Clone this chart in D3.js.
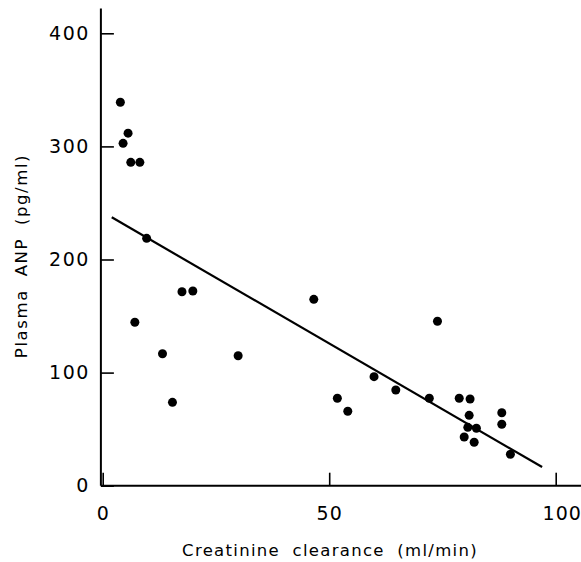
<!DOCTYPE html>
<html>
<head>
<meta charset="utf-8">
<script src="https://cdn.jsdelivr.net/npm/d3@7"></script>
<style>
  body { margin: 0; background: #fff; }
  svg text { font-family: "DejaVu Sans", sans-serif; fill: #000; }
</style>
</head>
<body>
<svg id="chart" width="581" height="562"></svg>
<script>
// Plasma ANP vs creatinine clearance

// creatinine clearance (ml/min)
const clearance = [3.9, 5.6, 4.5, 6.2, 8.2, 9.7, 17.5, 19.9, 7.1, 13.2, 15.4,
    29.9, 46.6, 51.8, 54.1, 59.9, 73.9, 64.7, 72.1, 78.7, 81.1, 80.9, 80.6,
    82.5, 79.8, 82.0, 88.1, 88.1, 90.0];

// plasma ANP (pg/ml)
const anp = [339, 311.7, 302.7, 285.9, 285.9, 218.7, 171.5, 172.1, 144.5, 116.7, 73.7,
    114.9, 164.8, 77.3, 65.8, 96.4, 145.4, 84.6, 77.3, 77.3, 76.7, 62.2, 51.6,
    50.8, 43.1, 38.4, 64.5, 54.3, 27.8];

// regression line end points
const fitX = [2, 97];
const fitY = [237.3, 16.5];

const xTicks = [0, 50, 100];
const yTicks = [0, 100, 200, 300, 400];

const svg = d3.select('#chart');

const x = d3.scaleLinear().domain([0, 100]).range([102.7, 555.7]);
const y = d3.scaleLinear().domain([0, 400]).range([485.7, 33.3]);

// x axis, ticks pointing up into the plot
const xAxis = svg.append('g')
    .attr('transform', `translate(0,${y(0)})`)
    .call(d3.axisBottom(x).tickValues(xTicks).tickSize(-13).tickSizeOuter(0).tickPadding(14));

xAxis.select('.domain').remove();
xAxis.append('line')
    .attr('x1', x(-0.4)).attr('x2', x(105.8))
    .attr('stroke', '#000').attr('stroke-width', 2);
xAxis.selectAll('.tick line').attr('stroke-width', 1.6);
xAxis.selectAll('.tick text')
    .attr('font-size', 19)
    .attr('letter-spacing', 1)
    .attr('dy', '1.05em')
    .attr('dx', d => d === 100 ? 6 : 0);

// y axis, ticks pointing right
const yAxis = svg.append('g')
    .attr('transform', `translate(${x(-0.4)},0)`)
    .call(d3.axisLeft(y).tickValues(yTicks).tickSize(-13).tickSizeOuter(0).tickPadding(11));

yAxis.select('.domain').remove();
yAxis.append('line')
    .attr('y1', y(0)).attr('y2', y(422))
    .attr('stroke', '#000').attr('stroke-width', 2);
yAxis.selectAll('.tick line').attr('stroke-width', 1.6);
yAxis.selectAll('.tick text')
    .attr('font-size', 19)
    .attr('letter-spacing', 1.5);

// axis titles
svg.append('text')
    .attr('x', 330)
    .attr('y', 556)
    .attr('text-anchor', 'middle')
    .attr('font-size', 16.5)
    .attr('letter-spacing', 1.3)
    .attr('word-spacing', 6)
    .text('Creatinine clearance (ml/min)');

svg.append('text')
    .attr('transform', 'translate(27,256) rotate(-90)')
    .attr('text-anchor', 'middle')
    .attr('font-size', 16.5)
    .attr('letter-spacing', 1.6)
    .attr('word-spacing', 6)
    .text('Plasma ANP (pg/ml)');

// regression line
svg.append('line')
    .attr('x1', x(fitX[0])).attr('y1', y(fitY[0]))
    .attr('x2', x(fitX[1])).attr('y2', y(fitY[1]))
    .attr('stroke', '#000')
    .attr('stroke-width', 2.2);

// points
svg.append('g')
    .selectAll('circle')
    .data(clearance.map((c, i) => [c, anp[i]]))
    .join('circle')
    .attr('cx', d => x(d[0]))
    .attr('cy', d => y(d[1]))
    .attr('r', 4.5)
    .attr('fill', '#000');
</script>
</body>
</html>
